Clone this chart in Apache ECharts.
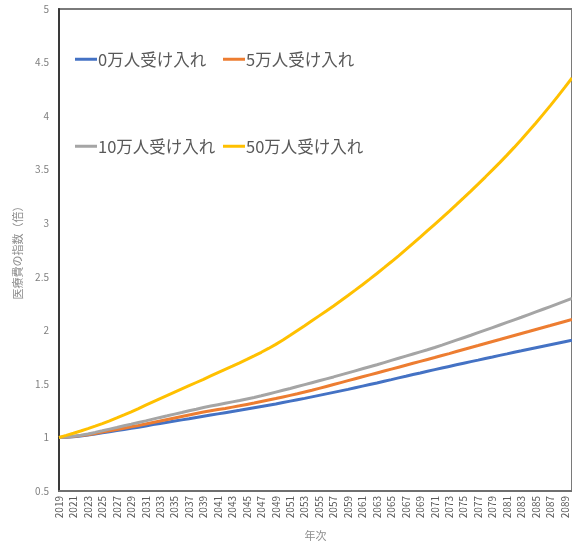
<!DOCTYPE html>
<html>
<head>
<meta charset="utf-8">
<script src="https://cdn.jsdelivr.net/npm/echarts@6/dist/echarts.min.js"></script>
<style>html,body{margin:0;padding:0;background:#fff;}#c{width:572px;height:546px;}</style>
</head>
<body>
<div id="c"></div>
<script>
const years = [];
for (let y = 2019; y <= 2090; y++) years.push(String(y));

const seriesNames = ['0万人受け入れ', '5万人受け入れ', '10万人受け入れ', '50万人受け入れ'];

const accept0 = [
1.000,1.002,1.006,1.014,1.022,1.032,1.044,1.054,1.064,1.074,
1.085,1.096,1.107,1.120,1.131,1.142,1.153,1.164,1.175,1.187,
1.198,1.209,1.220,1.231,1.242,1.253,1.265,1.277,1.289,1.301,
1.313,1.326,1.339,1.352,1.365,1.379,1.393,1.407,1.421,1.435,
1.449,1.464,1.479,1.494,1.509,1.525,1.540,1.556,1.571,1.587,
1.602,1.618,1.633,1.648,1.663,1.678,1.693,1.708,1.722,1.737,
1.751,1.766,1.780,1.795,1.809,1.824,1.838,1.852,1.866,1.880,
1.894,1.908];

const accept5 = [
1.000,1.003,1.008,1.017,1.026,1.037,1.050,1.062,1.074,1.086,
1.099,1.112,1.126,1.140,1.154,1.168,1.182,1.196,1.210,1.224,
1.237,1.249,1.260,1.271,1.283,1.295,1.308,1.321,1.335,1.349,
1.363,1.378,1.393,1.408,1.424,1.440,1.458,1.476,1.494,1.512,
1.530,1.548,1.566,1.584,1.602,1.620,1.638,1.656,1.674,1.692,
1.710,1.728,1.746,1.765,1.783,1.802,1.821,1.840,1.858,1.877,
1.896,1.914,1.933,1.952,1.971,1.989,2.008,2.027,2.045,2.064,
2.083,2.102];

const accept10 = [
1.000,1.004,1.011,1.021,1.033,1.047,1.062,1.078,1.093,1.109,
1.124,1.140,1.155,1.171,1.187,1.202,1.218,1.233,1.249,1.264,
1.280,1.293,1.306,1.319,1.332,1.345,1.359,1.373,1.389,1.406,
1.423,1.440,1.457,1.475,1.493,1.511,1.529,1.547,1.565,1.584,
1.603,1.622,1.641,1.660,1.679,1.699,1.719,1.739,1.759,1.779,
1.799,1.819,1.840,1.862,1.885,1.908,1.931,1.954,1.978,2.002,
2.026,2.050,2.074,2.098,2.122,2.147,2.172,2.197,2.222,2.247,
2.272,2.297];

const accept50 = [
1.000,1.019,1.039,1.060,1.082,1.105,1.129,1.155,1.182,1.210,
1.239,1.270,1.302,1.333,1.363,1.393,1.423,1.453,1.483,1.513,
1.543,1.574,1.605,1.635,1.665,1.696,1.728,1.761,1.795,1.831,
1.869,1.909,1.953,1.998,2.043,2.089,2.135,2.181,2.228,2.276,
2.325,2.375,2.426,2.478,2.531,2.585,2.640,2.696,2.753,2.811,
2.870,2.930,2.990,3.050,3.111,3.173,3.236,3.300,3.365,3.431,
3.498,3.566,3.636,3.708,3.782,3.858,3.936,4.016,4.098,4.182,
4.268,4.356];

const seriesData = [accept0, accept5, accept10, accept50];
const colors = ['#4472C4', '#ED7D31', '#A5A5A5', '#FFC000'];

const FONT = '"Noto Sans CJK JP", "Noto Sans", sans-serif';
const legendPos = [[75, 51], [223, 51], [75, 138], [223, 138]];

const chart = echarts.init(document.getElementById('c'));
chart.setOption({
  animation: false,
  backgroundColor: '#fff',
  color: colors,
  grid: {
    left: 59, top: 9, right: -2, bottom: 54,
    show: true, borderColor: '#7a7a7a', borderWidth: 2, backgroundColor: 'transparent'
  },
  legend: seriesNames.map((n, i) => ({
    data: [n],
    left: legendPos[i][0], top: legendPos[i][1],
    padding: 0,
    icon: 'rect', itemWidth: 22, itemHeight: 3, itemGap: 0,
    textStyle: { fontSize: 16.5, color: '#595959', fontFamily: FONT, padding: [0, 0, 0, -4] }
  })),
  xAxis: {
    type: 'category',
    data: years,
    boundaryGap: false,
    name: '年次',
    nameLocation: 'middle',
    nameGap: 39,
    nameTextStyle: { fontSize: 11, color: '#8c8c8c', fontFamily: FONT },
    axisLine: { lineStyle: { color: '#6f6f6f', width: 2 } },
    axisTick: { show: false },
    axisLabel: { interval: 1, rotate: 90, fontSize: 10, color: '#595959', margin: 5, fontFamily: FONT },
    splitLine: { show: false }
  },
  yAxis: {
    type: 'value',
    min: 0.5, max: 5, interval: 0.5,
    name: '医療費の指数（倍）',
    nameLocation: 'middle',
    nameGap: 36,
    nameTextStyle: { fontSize: 11, color: '#8c8c8c', fontFamily: FONT },
    axisLine: { show: true, lineStyle: { color: '#3a3a3a', width: 2 } },
    axisTick: { show: false },
    axisLabel: { fontSize: 10, color: '#7f7f7f', margin: 10, fontFamily: FONT },
    splitLine: { show: false }
  },
  series: seriesNames.map((n, i) => ({
    name: n,
    type: 'line',
    data: seriesData[i],
    showSymbol: false,
    symbol: 'none',
    smooth: false,
    lineStyle: { width: 3, color: colors[i] },
    itemStyle: { color: colors[i] }
  }))
});
</script>
</body>
</html>
